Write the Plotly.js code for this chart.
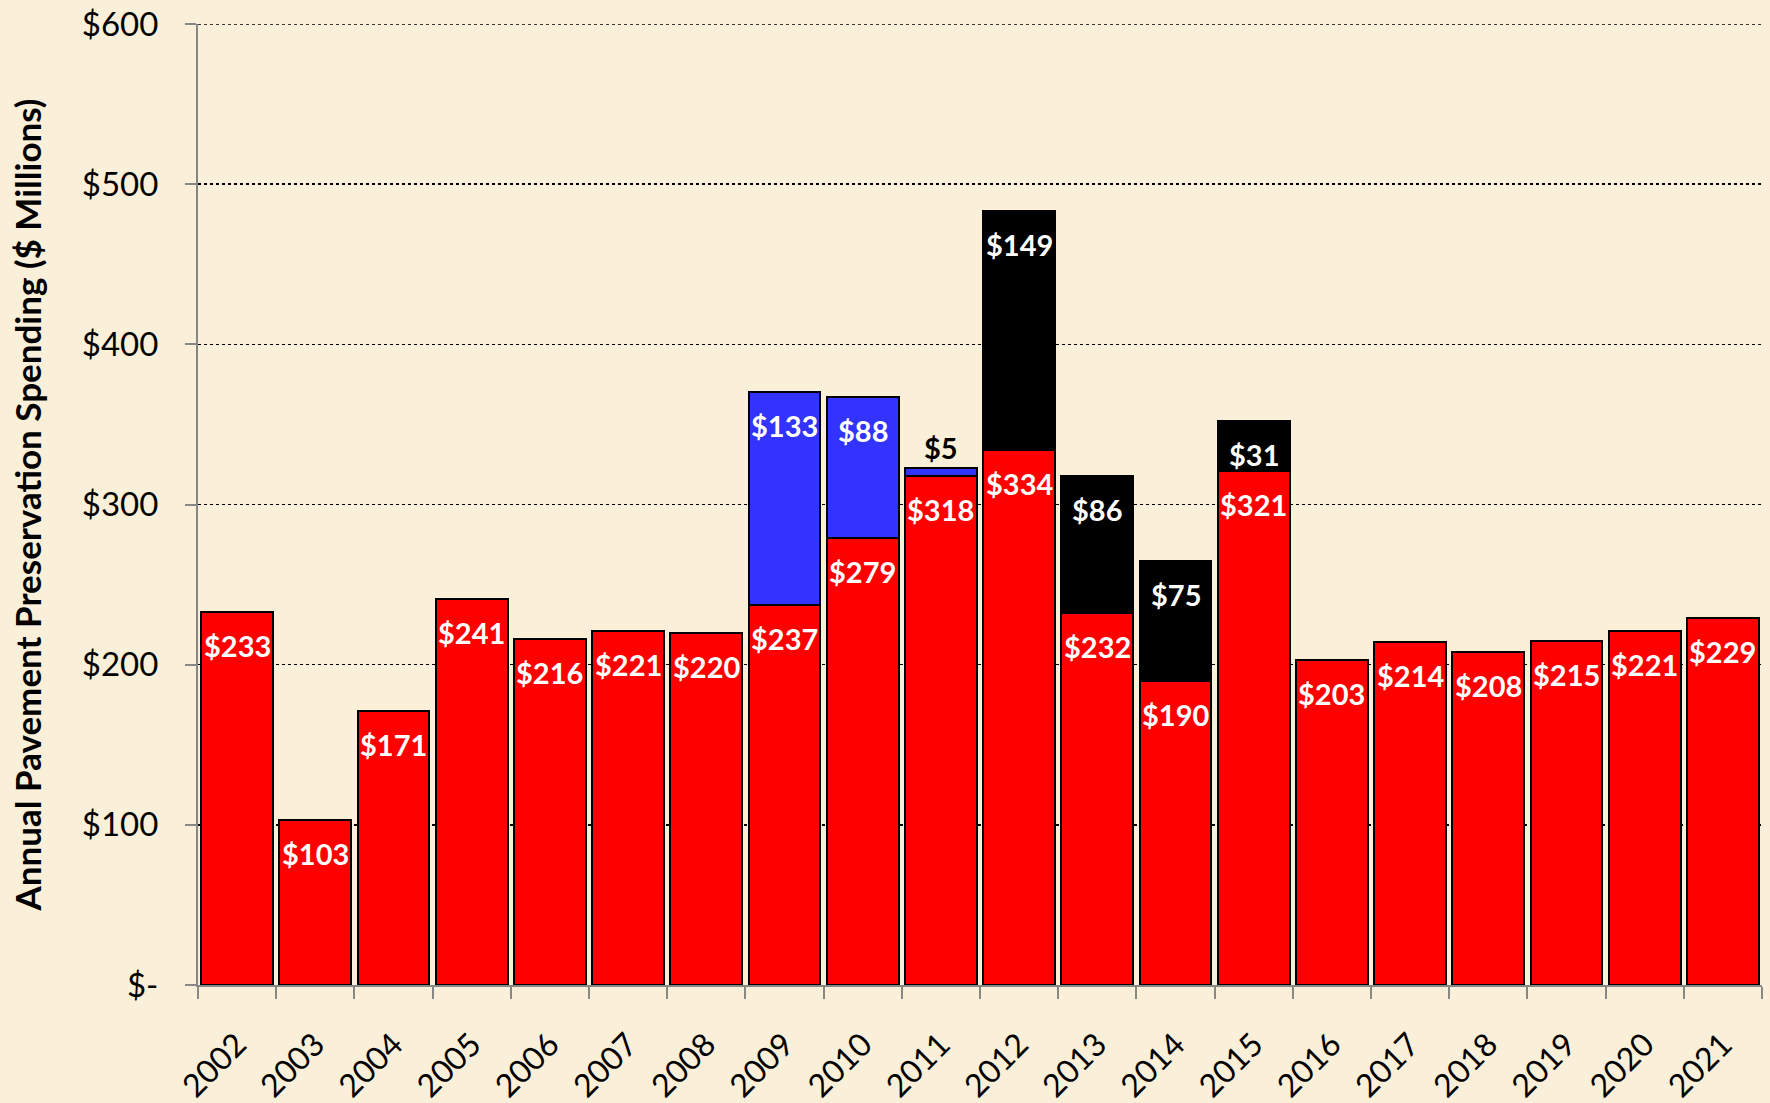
<!DOCTYPE html>
<html>
<head>
<meta charset="utf-8">
<script src="https://cdn.plot.ly/plotly-3.0.1.min.js"></script>
<style>
  html, body { margin: 0; padding: 0; background: #FAEFD8; }
  #chart { width: 1770px; height: 1103px; }
</style>
</head>
<body>
<div id="chart"></div>
<script>
// ---- data ----
const years = ['2002','2003','2004','2005','2006','2007','2008','2009','2010','2011',
               '2012','2013','2014','2015','2016','2017','2018','2019','2020','2021'];
const baseSpend  = [233,103,171,241,216,221,220,237,279,318,334,232,190,321,203,214,208,215,221,229];
const blueSpend  = [null,null,null,null,null,null,null,133,88,5,null,null,null,null,null,null,null,null,null,null];
const blackSpend = [null,null,null,null,null,null,null,null,null,null,149,86,75,31,null,null,null,null,null,null];
const yTickVals  = [0,100,200,300,400,500,600];
const yTickText  = ['$-','$100','$200','$300','$400','$500','$600'];

// ---- styling ----
const FONT = 'Lato, "Open Sans", sans-serif';
const BG = '#FAEFD8';
const AXIS_GREY = '#878787';

function barTrace(vals, color) {
  return {
    type: 'bar', x: years, y: vals,
    marker: { color: color, line: { color: '#000000', width: 2 } },
    hoverinfo: 'x+y', showlegend: false
  };
}

const traces = [
  barTrace(baseSpend, '#FF0000'),
  barTrace(blueSpend, '#3333FF'),
  barTrace(blackSpend, '#000000')
];

// value labels, positioned at the top of each stacked segment
// (x given as the category index so the category axis places them)
const annotations = [];
function addLabels(vals, below) {
  vals.forEach((v, i) => {
    if (v === null) return;
    let top = 0;
    for (const s of below) top += (s[i] || 0);
    top += v;
    const small = v < 20;
    annotations.push({
      x: i, y: top, xref: 'x', yref: 'y',
      text: '$' + v, showarrow: false,
      yanchor: small ? 'bottom' : 'top',
      yshift: small ? 1 : -14,
      font: { family: FONT, size: 29, color: small ? '#000000' : '#FFFFFF', weight: 'bold' }
    });
  });
}
addLabels(baseSpend, []);
addLabels(blueSpend, [baseSpend]);
addLabels(blackSpend, [baseSpend, blueSpend]);

const layout = {
  width: 1770, height: 1103,
  paper_bgcolor: BG, plot_bgcolor: BG,
  margin: { l: 198, r: 8, t: 24, b: 118 },
  barmode: 'stack', bargap: 0.08,
  font: { family: FONT, color: '#000000' },
  xaxis: {
    type: 'category', range: [-0.5, years.length - 0.5], autorange: false,
    showline: true, linecolor: AXIS_GREY, linewidth: 2,
    ticks: 'outside', tickson: 'boundaries', ticklen: 12, tickwidth: 2, tickcolor: AXIS_GREY,
    tickangle: -45, ticklabelstandoff: 26,
    tickfont: { family: FONT, size: 32, color: '#000000' },
    showgrid: false, zeroline: false
  },
  yaxis: {
    range: [0, 600], autorange: false,
    tickvals: yTickVals, ticktext: yTickText,
    showline: true, linecolor: AXIS_GREY, linewidth: 2,
    ticks: 'outside', ticklen: 11, tickwidth: 2, tickcolor: AXIS_GREY,
    ticklabelstandoff: 20,
    tickfont: { family: FONT, size: 33, color: '#000000' },
    showgrid: true, gridcolor: '#000000', gridwidth: 1.5, griddash: 'dot',
    zeroline: false,
    title: { text: 'Annual Pavement Preservation Spending ($ Millions)',
             font: { family: FONT, size: 35, color: '#000000', weight: 'bold' }, standoff: 30 }
  },
  shapes: [{
    type: 'line', xref: 'paper', yref: 'y', x0: 0, x1: 1, y0: 600, y1: 600,
    line: { color: '#000000', width: 1.5, dash: 'dot' }, layer: 'below'
  }],
  annotations: annotations
};

Plotly.newPlot('chart', traces, layout, { displayModeBar: false, staticPlot: true });
</script>
</body>
</html>
